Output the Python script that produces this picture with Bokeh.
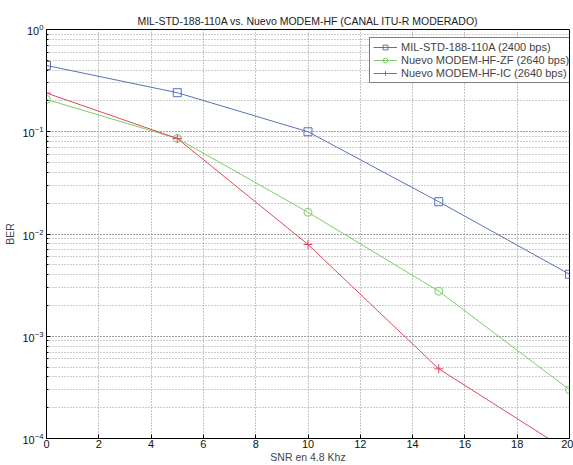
from bokeh.plotting import figure
from bokeh.models import Range1d, SingleIntervalTicker, Legend, LegendItem
from bokeh.embed import file_html
from bokeh.resources import INLINE

snr = [0, 5, 10, 15, 20]
ber_mil = [0.445, 0.241, 0.100, 0.0207, 0.00404]
ber_zf = [0.207, 0.086, 0.0163, 0.00276, 0.000300]
ber_ic = [0.239, 0.086, 0.0079, 0.00048, 0.000074]

labels = ["MIL-STD-188-110A (2400 bps)", "Nuevo MODEM-HF-ZF (2640 bps)", "Nuevo MODEM-HF-IC (2640 bps)"]
colors = ["#5a70b8", "#7ccc6a", "#e0485e"]

FONT = "Liberation Sans"

p = figure(width=573, height=465, output_backend="svg", toolbar_location=None,
           y_axis_type="log", x_range=Range1d(0, 20), y_range=Range1d(1e-4, 1),
           min_border_left=46, min_border_right=4, min_border_top=29, min_border_bottom=26)

p.title.text = "MIL-STD-188-110A vs. Nuevo MODEM-HF (CANAL ITU-R MODERADO)"
p.title.align = "center"
p.title.text_font = FONT
p.title.text_font_size = "10.5px"
p.title.text_font_style = "normal"
p.title.text_color = "#222222"
p.title.offset = 0
p.title.standoff = 6

p.outline_line_color = "black"
p.outline_line_width = 1
p.background_fill_color = "white"
p.border_fill_color = "white"

p.xaxis.ticker = SingleIntervalTicker(interval=2, num_minor_ticks=0)
for ax in [p.xaxis[0], p.yaxis[0]]:
    ax.major_tick_in = 4
    ax.major_tick_out = 0
    ax.minor_tick_in = 2
    ax.minor_tick_out = 0
    ax.major_label_text_font = FONT
    ax.major_label_text_font_size = "11px"
    ax.major_label_text_color = "#111111"
    ax.axis_label_text_font = FONT
    ax.axis_label_text_font_size = "10.5px"
    ax.axis_label_text_font_style = "normal"
    ax.axis_line_color = "black"
    ax.major_label_standoff = 1
    ax.axis_label_standoff = 0

p.yaxis.major_label_standoff = 3
p.yaxis.axis_label_standoff = 3
p.xaxis.axis_label = "SNR en 4.8 Khz"
p.yaxis.axis_label = "BER"
p.xaxis.minor_tick_line_color = None

for g in [p.xgrid[0], p.ygrid[0]]:
    g.grid_line_color = "#8a8a8a"
    g.grid_line_dash = "1 2"
    g.grid_line_width = 1
p.ygrid.minor_grid_line_color = "#9a9a9a"
p.ygrid.minor_grid_line_dash = "1 2"

series = [ber_mil, ber_zf, ber_ic]
markers = ["square", "circle", "cross"]
items = []
for ys, c, m, lab in zip(series, colors, markers, labels):
    r1 = p.line(snr, ys, line_color=c, line_width=1)
    if m == "cross":
        r2 = p.scatter(snr, ys, marker=m, size=9, line_color=c, line_width=1)
    else:
        r2 = p.scatter(snr, ys, marker=m, size=8, line_color=c, fill_color=None, line_width=1)
    items.append(LegendItem(label=lab, renderers=[r1, r2]))

leg = Legend(items=items, location=(323, 355))
leg.border_line_color = "black"
leg.border_line_width = 1
leg.background_fill_alpha = 1
leg.label_text_font = FONT
leg.label_text_font_size = "11px"
leg.label_height = 12
leg.glyph_height = 12
leg.glyph_width = 24
leg.label_standoff = 4
leg.spacing = 1
leg.padding = 3
leg.margin = 0
p.add_layout(leg, "center")

open("out.html", "w").write(file_html(p, INLINE))
